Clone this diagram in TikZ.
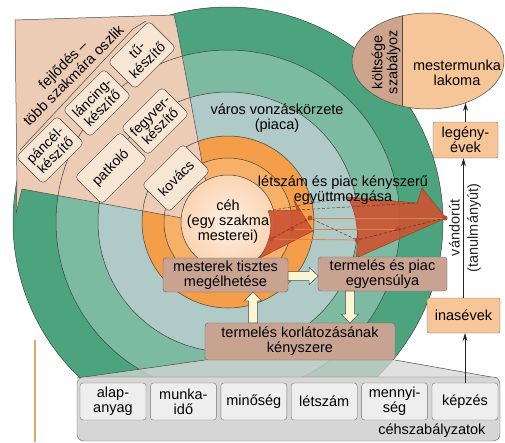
\documentclass[tikz,border=0pt]{standalone}
\usepackage{fontspec}
\setmainfont{Liberation Sans}
\usetikzlibrary{arrows.meta, positioning, shapes.geometric, calc}
\definecolor{ringgreen}{RGB}{76,164,126}
\definecolor{ringteal}{RGB}{124,186,162}
\definecolor{ringgray}{RGB}{176,202,200}
\definecolor{ringorange}{RGB}{244,158,74}
\definecolor{ringorangelt}{RGB}{246,176,104}
\definecolor{cehpeach}{RGB}{250,212,178}
\definecolor{fanpeach}{RGB}{236,204,180}
\definecolor{boxpeach}{RGB}{248,230,213}
\definecolor{boxbrown}{RGB}{201,163,145}
\definecolor{boxorange}{RGB}{247,198,152}
\definecolor{mestleft}{RGB}{205,164,140}
\definecolor{arrowred}{RGB}{204,84,52}
\definecolor{linkorange}{RGB}{226,132,70}
\definecolor{cream}{RGB}{252,246,210}
\definecolor{rulegray}{RGB}{214,214,214}
\definecolor{cellgray}{RGB}{238,238,238}
\definecolor{margintan}{RGB}{214,170,110}
\newcommand{\lblfont}{\fontsize{14.5pt}{15pt}\selectfont}
\newcommand{\fanfont}{\fontsize{14pt}{14.5pt}\selectfont}

\tikzset{
    pics/creamarrow/.style={code={
        \fill[cream, draw=black!70, line width=0.5pt]
            (0,-4.5) -- (#1-9,-4.5) -- (#1-9,-8.5) -- (#1,0) -- (#1-9,8.5) -- (#1-9,4.5) -- (0,4.5) -- cycle;
    }}
}

\begin{document}
\begin{tikzpicture}[x=1pt, y=-1pt,
        ring/.style={draw=black!75, line width=0.5pt},
        fanbox/.style={rectangle, draw=black!75, rounded corners=4pt, fill=boxpeach, rotate=45,
                       align=center, font=\fanfont, minimum width=58pt, minimum height=38pt, inner sep=1pt},
        brownbox/.style={rectangle, draw=black!60, rounded corners=3pt, fill=boxbrown,
                         align=center, font=\lblfont, inner sep=0pt},
        orangebox/.style={rectangle, draw=black!60, rounded corners=2pt, fill=boxorange,
                          align=center, font=\lblfont, inner sep=0pt},
        cell/.style={rectangle, draw=black!55, rounded corners=3pt, fill=cellgray, align=center,
                     font=\lblfont, minimum width=66pt, minimum height=37pt, inner sep=0pt},
        thinarrow/.style={-{Stealth[length=8pt, width=5pt]}, black!85, line width=0.7pt},
        redarrow/.style={fill=arrowred, fill opacity=0.92, draw=arrowred!70!black, line width=0.4pt},
        link/.style={linkorange, line width=0.8pt},
        dashtrace/.style={densely dashed, arrowred!55!black, line width=0.5pt},
        reddot/.style={circle, fill=arrowred!90!black, inner sep=0pt, minimum size=5pt}
    ]
        \useasboundingbox (0,0) rectangle (505,442);
        \fill[white] (0,0) rectangle (505,442);

        % Gyűrűk
        \fill[ringgreen, draw=black!75, line width=0.5pt] (228,222) circle[radius=215];
        \fill[ringteal] (228,222) circle[radius=172];
        \fill[ringgray] (228,222) circle[radius=130];
        \fill[ringorange] (228,222) circle[radius=86];
        \fill[ringorangelt] (228,222) circle[radius=64];

        % Legyező
        \fill[fanpeach, draw=black!70, line width=0.5pt]
            (15,20) -- (174,15) -- (177,28) -- (205,178) -- (228,222) -- (182,218)
            -- (22,189) -- (16,214) -- (17,186) -- cycle;
        \draw[black!70, line width=0.5pt] (20,150) -- (133,29) -- (146,21);

        \draw[ring] (228,222) circle[radius=172];
        \draw[ring] (228,222) circle[radius=130];
        \draw[ring] (228,222) circle[radius=86];
        \draw[ring] (228,222) circle[radius=64];

        \node[font=\lblfont, align=center, rotate=45] (fejlodes) at (68,70) {fejlődés --\\több szakmára oszlik};
        \node[fanbox] (pancel) at (50,150) {páncél-\\készítő};
        \node[fanbox] (lancing) at (97,103) {láncing-\\készítő};
        \node[fanbox] (tu) at (142,55) {tű-\\készítő};
        \node[fanbox] (fegyver) at (155,121) {fegyver-\\készítő};
        \node[fanbox, minimum width=64pt] (patkolo) at (111,168) {patkoló};
        \node[fanbox] (kovacs) at (176,178) {kovács};

        \node[circle, draw=black!75, line width=0.5pt, minimum size=94pt, inner sep=0pt,
              inner color=cehpeach!35, outer color=cehpeach] (ceh) at (228,222) {};

        % Vörös nyilak
        \fill[redarrow] (268,211) -- (297,210) -- (294,200) -- (313,231) -- (258,259)
            .. controls (270,245) and (274,225) .. (268,211);
        \fill[redarrow] (347,197) -- (417,203) -- (422,188) -- (446,218) -- (356,258)
            .. controls (359,240) and (358,212) .. (347,197);

        \node[reddot] (a1) at (310,218) {};
        \node[reddot] (a2) at (292,229) {};
        \node[reddot] (a3) at (271,239) {};
        \node[reddot] (b1) at (445,218) {};
        \node[reddot] (b2) at (398,229) {};
        \node[reddot] (b3) at (357,240) {};
        \draw[link] (a1) -- (b1);
        \draw[link] (a2) -- (b2);
        \draw[link] (a3) -- (b3);
        \draw[dashtrace] (a3) -- (a1);
        \draw[dashtrace] (b3) -- (b1);
        \draw[dashtrace] (268,211) -- (347,197);
        \draw[dashtrace] (297,210) -- (417,203);
        \draw[dashtrace] (a1) -- (b3);

        \node[font=\lblfont, align=center] (cehlabel) at (ceh.center) {céh\\(egy szakma\\mesterei)};
        \node[font=\lblfont, align=center] (piac) at (277,118) {város vonzáskörzete\\(piaca)};
        \node[font=\lblfont, align=center] (egyutt) at (343,190) {létszám és piac kényszerű\\együttmozgása};

        % Céhszabályzatok
        \coordinate (fl) at (205,360);
        \coordinate (fr) at (395,360);
        \fill[rulegray, fill opacity=0.75] (77,378) -- (fl) -- (fr) -- (497,378) -- cycle;
        \draw[black!70, line width=0.5pt] (77,378) -- (fl);
        \draw[black!70, line width=0.5pt] (497,378) -- (fr);
        \node[rectangle, draw=black!60, rounded corners=7pt, fill=rulegray, minimum width=423pt,
              minimum height=64pt] (rules) at (288.5,409) {};
        \node[cell] (alap) at (113,401.5) {alap-\\anyag};
        \node[cell, right=4pt of alap] (munka) {munka-\\idő};
        \node[cell, right=4pt of munka] (minoseg) {minőség};
        \node[cell, right=4pt of minoseg] (letszam) {létszám};
        \node[cell, right=4pt of letszam] (mennyiseg) {mennyi-\\ség};
        \node[cell, right=4pt of mennyiseg] (kepzes) {képzés};
        \node[font=\lblfont, anchor=east] (rulelabel) at (489,431) {céhszabályzatok};

        % Belső dobozok
        \node[brownbox, minimum width=125pt, minimum height=34pt] (mest) at (225.5,275) {mesterek tisztes\\megélhetése};
        \node[brownbox, minimum width=129pt, minimum height=34pt] (egyens) at (382.5,274) {termelés és piac\\egyensúlya};
        \node[brownbox, minimum width=190pt, minimum height=37pt] (korl) at (300,341.5) {termelés korlátozásának\\kényszere};

        \pic[rotate=90] at ($(korl.north)+(-47,0)$) {creamarrow=31};
        \pic at ($(mest.east)+(0,1)$) {creamarrow=30};
        \pic[rotate=-90] at ($(egyens.south)+(-32.5,0)$) {creamarrow=32};

        % Mesterré válás útja
        \begin{scope}
            \clip (428,61) ellipse[x radius=76, y radius=48];
            \fill[boxorange] (402,0) rectangle (505,120);
            \fill[mestleft] (340,0) rectangle (402,120);
            \draw[black!70, line width=0.5pt] (402,0) -- (402,120);
        \end{scope}
        \node[ellipse, draw=black!70, line width=0.5pt, minimum width=152pt, minimum height=96pt,
              inner sep=0pt] (mester) at (428,61) {};
        \node[font=\lblfont, align=center] (mestlabel) at (457,73) {mestermunka\\lakoma};
        \node[font=\lblfont, align=center, rotate=90] (koltlabel) at (386,62) {költsége\\szabályoz};

        \node[orangebox, minimum width=73pt, minimum height=35pt] (inas) at (463.5,315.5) {inasévek};
        \node[orangebox, minimum width=65pt, minimum height=36pt] (legeny) at (465.5,140) {legény-\\évek};

        \draw[thinarrow] (kepzes.north) -- (kepzes.north |- inas.south);
        \draw[thinarrow] (inas.north) -- (inas.north |- legeny.south)
            node[midway, above, rotate=90, font=\lblfont] {vándorút}
            node[midway, below, rotate=90, font=\lblfont] {(tanulmányút)};
        \draw[thinarrow] (legeny.north) -- (legeny.north |- mester.-48);

        \draw[margintan, line width=1.2pt] (35,340) -- (35,442);
    \end{tikzpicture}
\end{document}
